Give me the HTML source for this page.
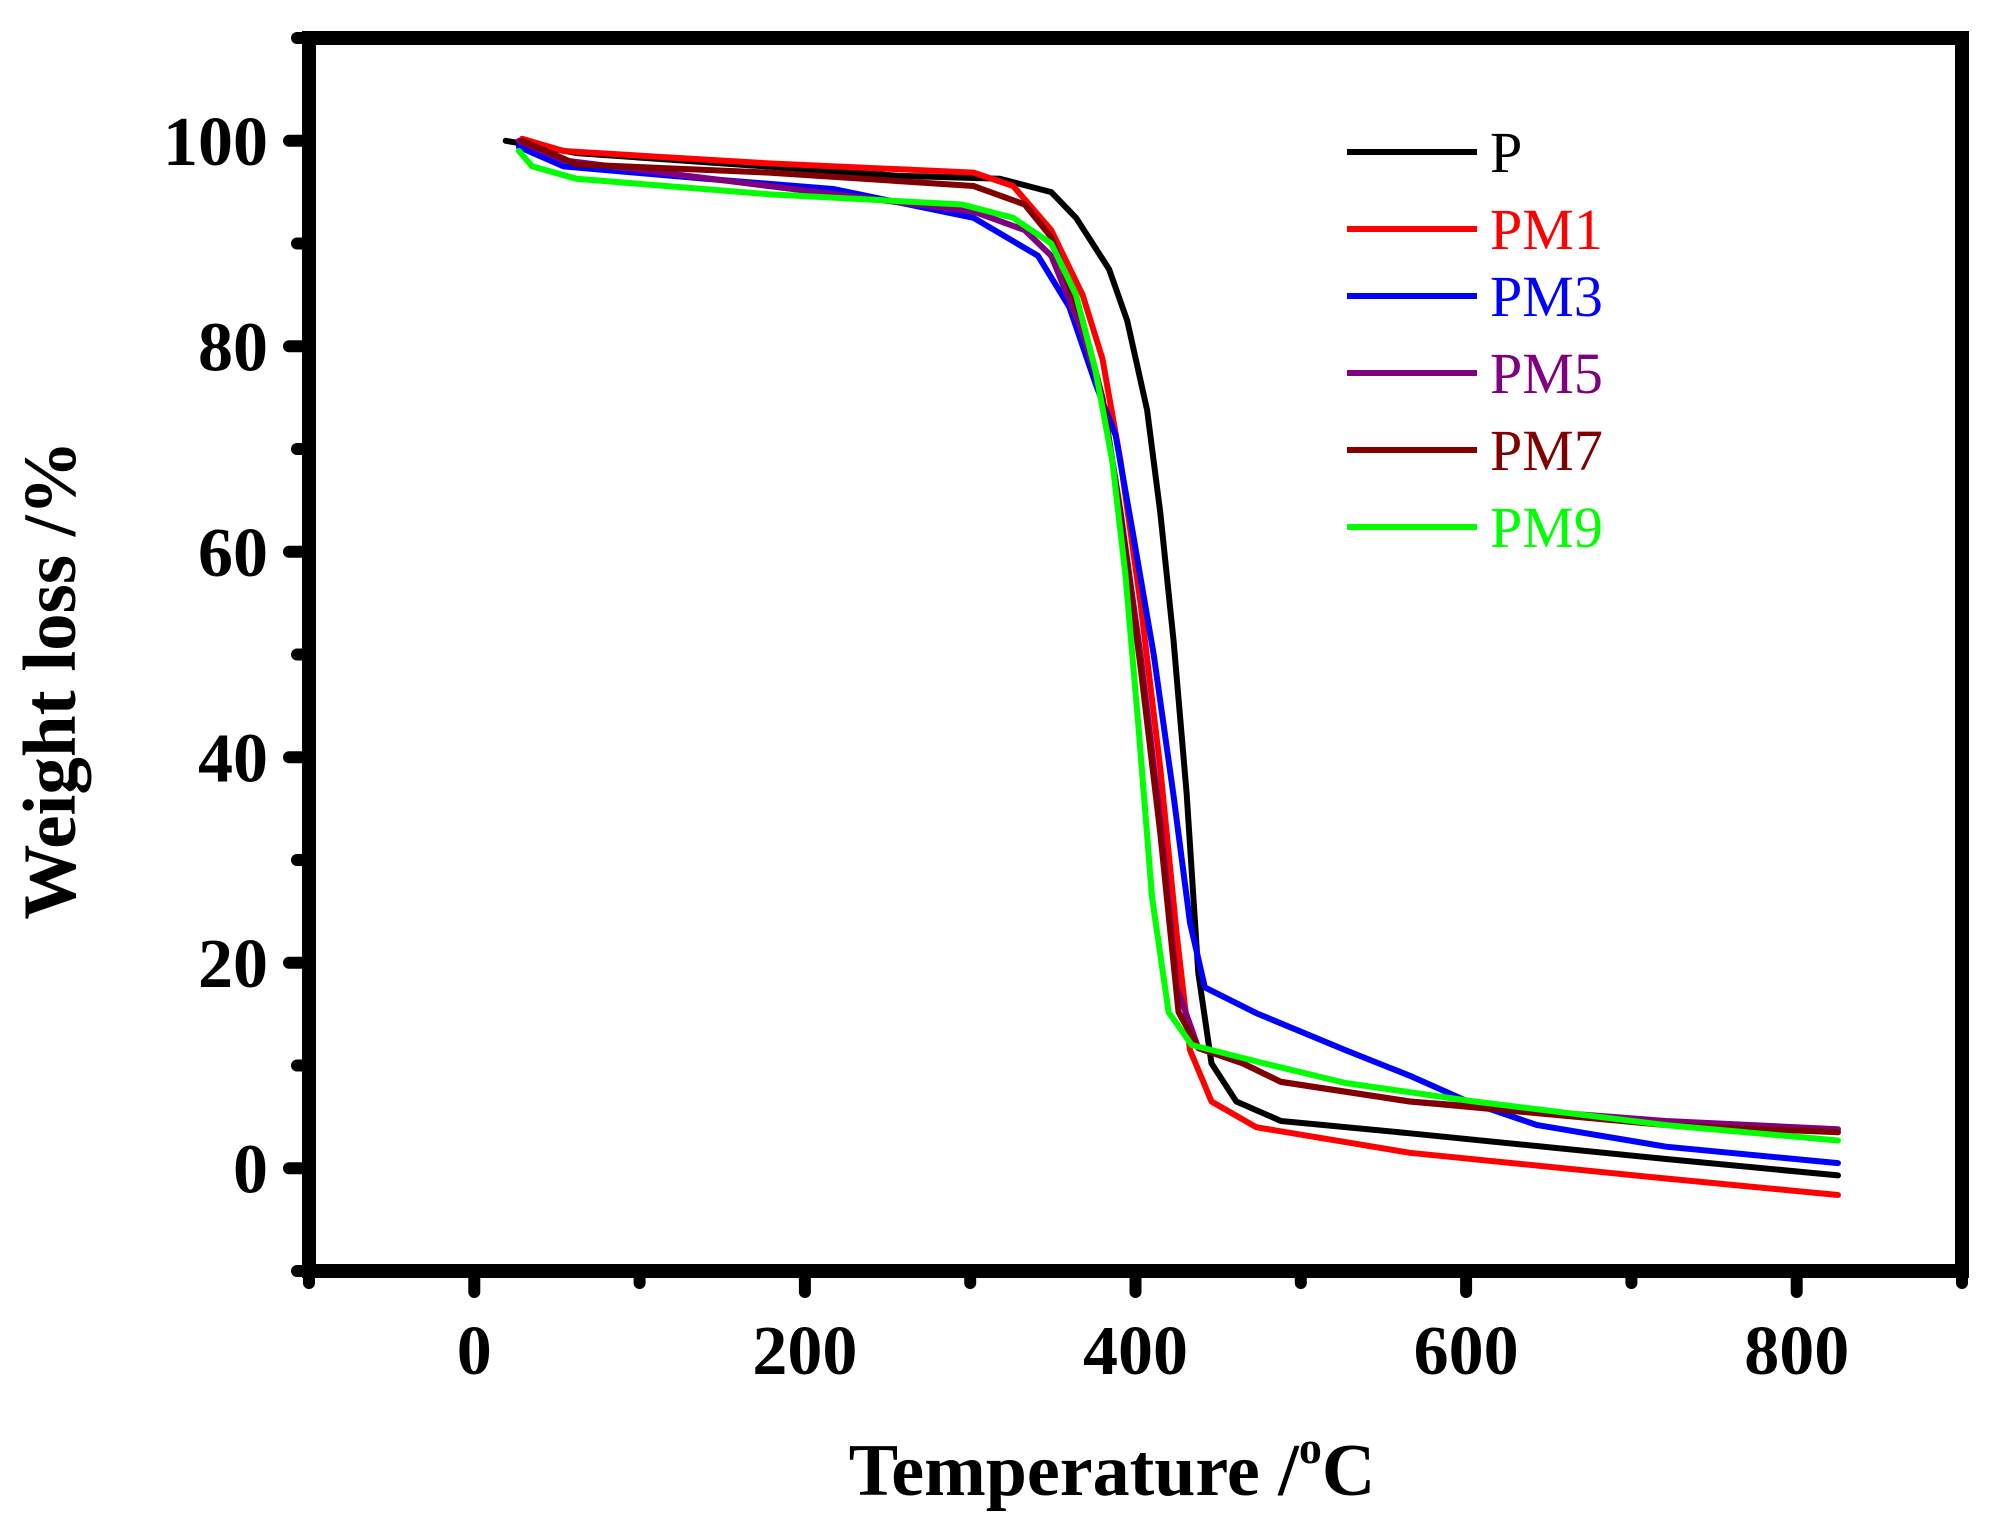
<!DOCTYPE html>
<html><head><meta charset="utf-8"><style>
html,body{margin:0;padding:0;background:#fff;}
svg{display:block;font-family:"Liberation Serif",serif;font-weight:bold;}
</style></head><body>
<svg id="chart" width="2007" height="1525" viewBox="0 0 2007 1525">
<g id="series"></g>
<rect x="309" y="38" width="1653" height="1233" fill="none" stroke="#000" stroke-width="14"/>
<g id="axes"></g>
<text x="1112" y="1495" text-anchor="middle" font-size="74">Temperature /<tspan font-size="46" dy="-32">o</tspan><tspan dy="32">C</tspan></text>
<text transform="translate(75,680) rotate(-90)" text-anchor="middle" font-size="75">Weight loss /%</text>
<g id="legend"></g>
</svg>
<script>
const xTicks=[0,200,400,600,800];
const yTicks=[0,20,40,60,80,100];
const seriesNames=["P","PM1","PM3","PM5","PM7","PM9"];
const seriesColors=["#000000","#ff0000","#0000ff","#800080","#800000","#00ff00"];
const tP=[19,62,256,318,349,364,384,395,407,415,423,431,438,446,461,488,566,721,825];
const wP=[100,98.8,96.6,96.3,95,92.5,87.5,82.5,73.8,63.8,51.4,36.4,19,10.2,6.5,4.6,3.4,0.9,-0.7];
const tPM1=[29,54,178,302,326,349,368,380,391,403,415,425,433,446,473,566,721,825];
const wPM1=[100.2,99,97.8,96.9,95.6,91.3,85,78.8,68.8,55,38.9,22.7,11.5,6.5,4,1.5,-1,-2.6];
const tPM3=[27,54,140,217,302,341,360,376,388,399,411,423,433,442,473,527,566,601,643,721,825];
const wPM3=[99.4,97.5,96.3,95.3,92.5,88.8,83.8,76.3,71.3,61.3,50,36.3,23.9,17.6,15.1,11.5,9,6.5,4.2,2.1,0.5];
const tPM5=[27,54,178,302,333,349,368,380,391,403,415,425,438,465,488,566,721,825];
const wPM5=[100,98.1,95.6,93.1,91.3,88.8,81.3,75,63.8,50,33.8,17.6,11.7,10.2,8.4,6.5,4.6,3.8];
const tPM7=[29,62,178,302,333,349,368,380,391,403,415,426,438,465,488,566,721,825];
const wPM7=[100,97.7,96.9,95.6,93.8,90.6,82.5,75,63.8,48.8,32.6,15.2,11.7,10.2,8.4,6.5,4.2,3.5];
const tPM9=[27,35,62,178,295,326,349,364,376,386,394,402,410,420,434,473,527,605,721,825];
const wPM9=[99,97.5,96.3,94.8,93.8,92.5,90,85,77.5,68.8,57.6,42.6,26.4,15.2,12,10.4,8.3,6.5,4.2,2.7];
const allT=[tP,tPM1,tPM3,tPM5,tPM7,tPM9];
const allW=[wP,wPM1,wPM3,wPM5,wPM7,wPM9];
const NS="http://www.w3.org/2000/svg";
function xs(t){return 309+(t+100)*1653/1000;}
function ys(w){return 1271-(w+10)*1233/120;}
const sg=document.getElementById('series');
allT.forEach((ts,i)=>{
  const p=document.createElementNS(NS,'polyline');
  p.setAttribute('points',ts.map((t,j)=>xs(t).toFixed(1)+','+ys(allW[i][j]).toFixed(1)).join(' '));
  p.setAttribute('fill','none');p.setAttribute('stroke',seriesColors[i]);
  p.setAttribute('stroke-width','6');p.setAttribute('stroke-linejoin','round');p.setAttribute('stroke-linecap','round');
  
  
  sg.appendChild(p);
});
const ax=document.getElementById('axes');
function line(x1,y1,x2,y2,name){
  const l=document.createElementNS(NS,'line');
  l.setAttribute('x1',x1);l.setAttribute('y1',y1);l.setAttribute('x2',x2);l.setAttribute('y2',y2);
  l.setAttribute('stroke','#000');l.setAttribute('stroke-width','12');l.setAttribute('stroke-linecap','round');
  
  
  ax.appendChild(l);
}
for(let t=-100;t<=900;t+=100){const major=(t%200===0);line(xs(t),1271,xs(t),major?1292:1283,major?'x-major-tick':'x-minor-tick');}
for(let w=-10;w<=110;w+=10){const major=(w%20===0);line(309,ys(w),major?289:297,ys(w),major?'y-major-tick':'y-minor-tick');}
function txt(x,y,s,anchor,size,name,color){
  const e=document.createElementNS(NS,'text');
  e.setAttribute('x',x);e.setAttribute('y',y);e.setAttribute('text-anchor',anchor);e.setAttribute('font-size',size);
  if(color)e.setAttribute('fill',color);
  e.textContent=s;
  
  
  ax.appendChild(e);
  return e;
}
xTicks.forEach(t=>txt(xs(t),1374,String(t),'middle',70,'x-tick-label'));
yTicks.forEach(w=>txt(268,ys(w)+24,String(w),'end',70,'y-tick-label'));
const lg=document.getElementById('legend');
const legY=[152,229,296,373,450,527];
seriesNames.forEach((n,i)=>{
  const l=document.createElementNS(NS,'line');
  l.setAttribute('x1',1347);l.setAttribute('x2',1477);l.setAttribute('y1',legY[i]);l.setAttribute('y2',legY[i]);
  l.setAttribute('stroke',seriesColors[i]);l.setAttribute('stroke-width','6');
  
  
  lg.appendChild(l);
  const e=document.createElementNS(NS,'text');
  e.setAttribute('x',1490);e.setAttribute('y',legY[i]+20);e.setAttribute('font-size','58');e.setAttribute('font-weight','normal');
  e.setAttribute('fill',seriesColors[i]);e.textContent=n;
  
  
  lg.appendChild(e);
});
</script>
</body></html>
